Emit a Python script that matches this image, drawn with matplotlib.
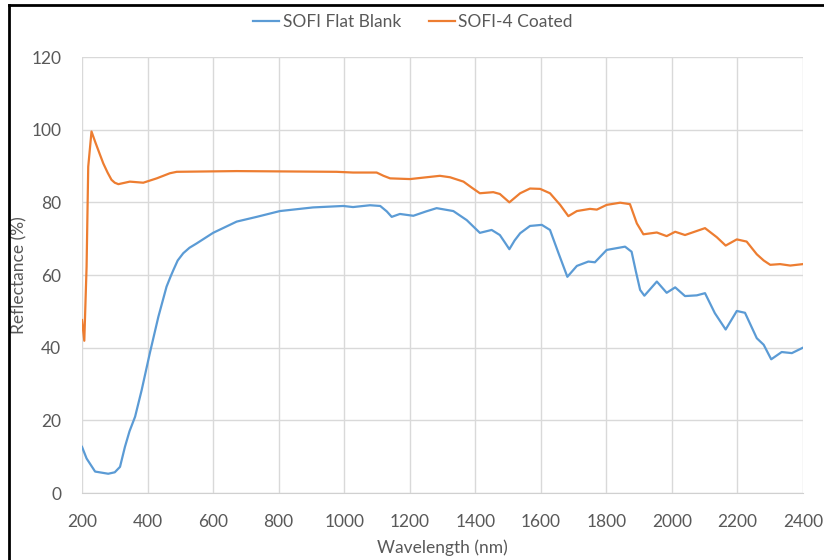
import matplotlib
matplotlib.use("Agg")
import matplotlib.pyplot as plt
from matplotlib.lines import Line2D

# ---- data ----
blank_wl = [200, 214, 240, 280, 300, 316, 331, 345, 362, 382, 407, 433, 458, 470, 479, 492, 509,
            528, 550, 600, 672, 733, 804, 905, 997, 1027, 1079, 1110, 1130, 1145, 1170, 1211,
            1250, 1282, 1333, 1374, 1414, 1450, 1475, 1490, 1504, 1520, 1537, 1567, 1603, 1628, 1654,
            1681, 1710, 1745, 1765, 1801, 1857, 1877, 1890, 1903, 1916, 1954, 1984, 2010,
            2040, 2076, 2101, 2131, 2164, 2198, 2223, 2259, 2280, 2303, 2335, 2366, 2400]
blank_refl = [12.7, 9.5, 5.9, 5.3, 5.7, 7.2, 12.7, 17.0, 21.0, 28.3, 38.5, 48.5, 56.8, 59.5, 61.4, 64.0, 66.0,
              67.5, 68.7, 71.6, 74.7, 76.0, 77.6, 78.6, 79.0, 78.7, 79.2, 79.0, 77.5, 76.0, 76.8, 76.3,
              77.5, 78.4, 77.6, 75.1, 71.6, 72.4, 71.0, 69.0, 67.1, 69.5, 71.5, 73.5, 73.8, 72.4, 66.0,
              59.5, 62.5, 63.7, 63.5, 66.9, 67.8, 66.4, 61.0, 55.9, 54.3, 58.2, 55.1, 56.6,
              54.2, 54.4, 55.0, 49.5, 45.0, 50.1, 49.6, 42.6, 40.8, 36.8, 38.8, 38.5, 40.0]

coated_wl = [200, 207, 214, 219, 229, 240, 252, 265, 278, 290, 300, 311, 346, 387, 428, 468, 489,
             672, 977, 1027, 1099, 1120, 1140, 1201, 1221, 1292, 1323, 1364, 1390, 1414, 1455,
             1475, 1504, 1537, 1567, 1598, 1628, 1659, 1684, 1710, 1750, 1771, 1801,
             1842, 1872, 1893, 1913, 1954, 1984, 2010, 2040, 2101, 2137, 2164, 2198,
             2228, 2259, 2280, 2300, 2330, 2361, 2400]
coated_refl = [47.6, 41.9, 62.3, 89.8, 99.5, 96.7, 93.8, 90.7, 88.2, 86.2, 85.4, 85.0, 85.7, 85.4, 86.6, 88.0, 88.4,
               88.6, 88.4, 88.2, 88.2, 87.3, 86.6, 86.4, 86.6, 87.3, 86.9, 85.7, 84.0, 82.5, 82.8,
               82.3, 80.0, 82.5, 83.8, 83.7, 82.5, 79.3, 76.2, 77.6, 78.2, 78.0, 79.3,
               79.9, 79.5, 74.2, 71.2, 71.7, 70.7, 71.9, 71.0, 72.9, 70.4, 68.1, 69.8,
               69.2, 65.7, 64.0, 62.8, 63.0, 62.6, 63.0]

series_names = ["SOFI Flat Blank", "SOFI-4 Coated"]
x_ticks = [200, 400, 600, 800, 1000, 1200, 1400, 1600, 1800, 2000, 2200, 2400]
y_ticks = [0, 20, 40, 60, 80, 100, 120]

plt.rcParams['font.family'] = ['Lato', 'DejaVu Sans']

fig = plt.figure(figsize=(8.24, 5.6), dpi=100)
ax = fig.add_axes([82/824, 67/560, 721/824, 436/560])

ax.plot(blank_wl, blank_refl, color='#5B9BD5', lw=1.6, label=series_names[0])
ax.plot(coated_wl, coated_refl, color='#ED7D31', lw=1.6, label=series_names[1])

ax.set_xlim(200, 2400)
ax.set_ylim(0, 120)
ax.set_xticks(x_ticks)
ax.set_yticks(y_ticks)
ax.grid(True, color='#d9d9d9', lw=1.0)
ax.set_axisbelow(True)
for s in ax.spines.values():
    s.set_visible(False)
ax.spines['bottom'].set_visible(True)
ax.spines['bottom'].set_color('#d0d0d0')
ax.tick_params(length=0, labelsize=12.5, colors='#595959', pad=15)
ax.set_xlabel("Wavelength (nm)", fontsize=12.5, color='#595959')
ax.set_ylabel("Reflectance (%)", fontsize=12.5, color='#595959')
ax.xaxis.set_label_coords(442/824 * 824/721 - 82/721, -(548 - 493)/436)
ax.yaxis.set_label_coords((19 - 82)/721, 0.5)
ax.xaxis.label.set_va('center')
ax.yaxis.label.set_va('center')

ax.legend(loc='center', bbox_to_anchor=(413/824, 1 - 22/560), bbox_transform=fig.transFigure,
          ncol=2, frameon=False, fontsize=12.5, handlelength=1.5, handletextpad=0.2,
          columnspacing=1.6, labelcolor='#595959')

# outer frame (top and left)
fig.add_artist(Line2D([8.5/824, 8.5/824], [0, 1 - 4.5/560], transform=fig.transFigure,
                      color='black', lw=2))
fig.add_artist(Line2D([8.5/824, 1], [1 - 4.5/560, 1 - 4.5/560], transform=fig.transFigure,
                      color='black', lw=2))

fig.savefig("out.png", dpi=100)
